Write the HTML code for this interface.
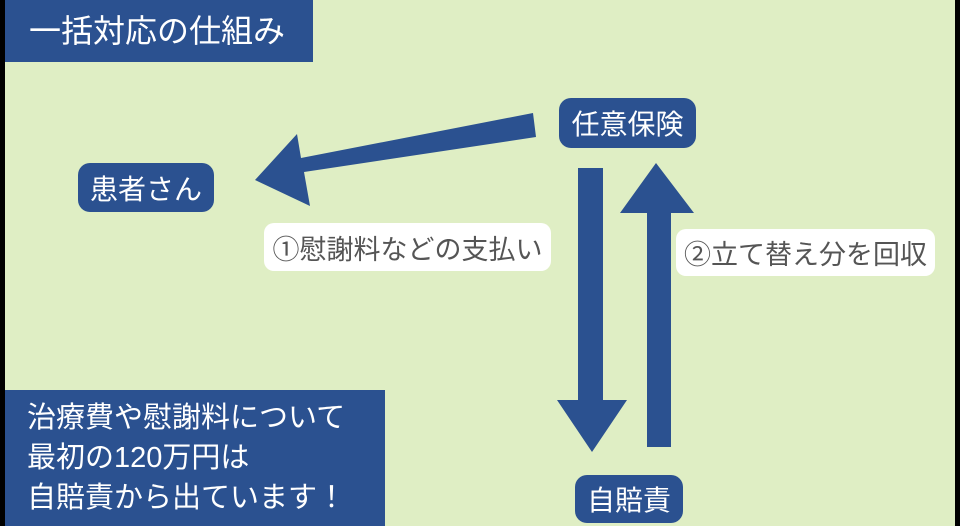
<!DOCTYPE html>
<html><head><meta charset="utf-8"><style>
body{margin:0;width:960px;height:526px;overflow:hidden;background:#000;font-family:"Liberation Sans","Noto Sans CJK JP",sans-serif}
.bg{position:absolute;left:5px;top:0;width:950px;height:526px;background:#dfeec4}
.b{position:absolute;background:#2b5190;color:#fff;box-sizing:border-box}
.n{border-radius:12px;display:flex;align-items:center;justify-content:center;font-size:28px}
.l{position:absolute;background:#fff;border-radius:10px;color:#555;font-size:27px;display:flex;align-items:center;justify-content:center;white-space:nowrap}
</style></head><body>
<div class="bg"></div>
<div class="b" style="left:5px;top:0;width:308px;height:62px;font-size:32px;padding:6px 0 0 24px;white-space:nowrap">一括対応の仕組み</div>
<div class="b n" style="left:78px;top:163px;width:136px;height:49px;">患者さん</div>
<div class="b n" style="left:559px;top:98px;width:137px;height:50px;">任意保険</div>
<div class="b n" style="left:575px;top:475px;width:108px;height:48px;">自賠責</div>
<div class="b" style="left:5px;top:390px;width:380px;height:136px;font-size:29px;line-height:40px;padding:8px 0 0 22px;white-space:nowrap">治療費や慰謝料について<br>最初の120万円は<br>自賠責から出ています！</div>
<div class="l" style="left:264px;top:223px;width:287px;height:48px;">①慰謝料などの支払い</div>
<div class="l" style="left:676px;top:229px;width:259px;height:47px;">②立て替え分を回収</div>
<svg style="position:absolute;left:0;top:0" width="960" height="526">
<polygon fill="#2b5190" points="533,113 536,137 304,172 310,206 255,180 297,134 301,158"/>
<polygon fill="#2b5190" points="578,168 603,168 603,400 627,400 592,452 557,400 578,400"/>
<polygon fill="#2b5190" points="647,447 671,447 671,213 694,213 656,163 620,213 647,213"/>
</svg>
</body></html>
